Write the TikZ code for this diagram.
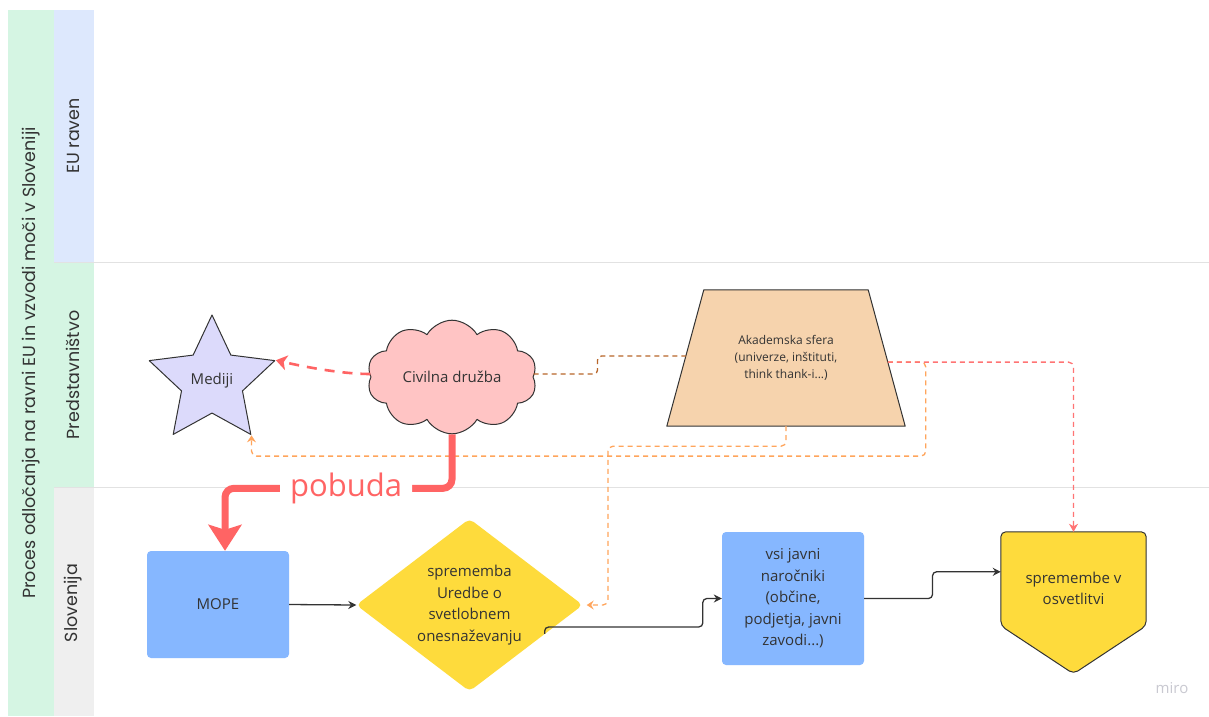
\documentclass[tikz,border=0pt]{standalone}
\usepackage{fontspec}
\setmainfont{Open Sans}
\newfontfamily\lanefont{Poppins}
\usetikzlibrary{shapes.geometric,shapes.symbols,arrows.meta,calc}

\definecolor{lanegreen}{HTML}{D5F5E3}
\definecolor{laneblue}{HTML}{DDE8FD}
\definecolor{lanegray}{HTML}{EFEFEF}
\definecolor{sepgray}{HTML}{E2E2E2}
\definecolor{inkdark}{HTML}{333333}
\definecolor{boxblue}{HTML}{86B7FF}
\definecolor{boxyellow}{HTML}{FEDB3C}
\definecolor{tanfill}{HTML}{F6D3AD}
\definecolor{cloudpink}{HTML}{FFC4C4}
\definecolor{starlilac}{HTML}{DCDAFB}
\definecolor{signalred}{HTML}{FF6464}
\definecolor{dashorange}{HTML}{FFA55C}
\definecolor{dashbrown}{HTML}{B8662A}
\definecolor{markgray}{HTML}{C9C9D1}

\pgfdeclarelayer{lanes}
\pgfdeclarelayer{shapes}
\pgfsetlayers{lanes,shapes,main}

\begin{document}
\begin{tikzpicture}[x=1pt,y=-1pt,
  shapetext/.style={font=\fontsize{15}{21.5}\selectfont, text=inkdark, align=center},
  smalltext/.style={font=\fontsize{12}{17}\selectfont, text=inkdark, align=center},
  lanelabel/.style={font=\lanefont\fontsize{17.5}{21}\selectfont, text=inkdark, rotate=90},
  outline/.style={draw=inkdark, line width=1pt, line join=round},
  bluebox/.style={shapetext, rectangle, rounded corners=4pt, fill=boxblue, inner sep=0pt},
  ghost/.style={rectangle, inner sep=0pt},
  flow/.style={draw=inkdark, line width=1.3pt, rounded corners=4pt,
    -{Stealth[length=8pt,width=8pt]}},
  pushlink/.style={draw=signalred, line width=2.6pt, dash pattern=on 10pt off 8pt,
    -{Stealth[length=11pt,width=15pt,inset=3pt]}},
  pobudalink/.style={draw=signalred, line width=7pt, rounded corners=9pt,
    -{Stealth[length=26pt,width=33pt,inset=5pt]}},
  orangelink/.style={draw=dashorange, line width=1.3pt, dash pattern=on 5pt off 4pt,
    rounded corners=5pt, -{Stealth[length=7pt,width=9pt,inset=2.5pt]}},
  redlink/.style={draw=signalred!90, line width=1.3pt, dash pattern=on 5pt off 4pt,
    rounded corners=5pt, -{Stealth[length=8pt,width=9pt,inset=2.5pt]}},
  brownlink/.style={draw=dashbrown, line width=1.3pt, dash pattern=on 5pt off 4pt,
    rounded corners=4pt},
]
\useasboundingbox (0,0) rectangle (1209,716);

% swimlane background
\begin{pgfonlayer}{lanes}
  \fill[white] (0,0) rectangle (1209,716);
  \fill[lanegreen] (8,10) rectangle (54,716);
  \fill[laneblue] (54,10) rectangle (94,262);
  \fill[lanegreen] (54,262) rectangle (94,487);
  \fill[lanegray] (54,487) rectangle (94,716);
  \draw[sepgray, line width=1pt] (54,262) -- (1209,262) (54,487) -- (1209,487);
\end{pgfonlayer}

% lane titles
\node[lanelabel] (title) at (31,363) {Proces odločanja na ravni EU in vzvodi moči v Sloveniji};
\node[lanelabel] (laneEU) at (73,136) {EU raven};
\node[lanelabel] (laneRep) at (73,375) {Predstavništvo};
\node[lanelabel] (laneSI) at (73,603) {Slovenija};

% actors
\node[star, star points=5, star point ratio=2.06, minimum size=132pt, inner sep=0pt,
      fill=starlilac, outline, shapetext] (med) at (212,381) {Mediji};
\node[cloud, cloud puffs=10, cloud puff arc=120, aspect=1.5, minimum width=170pt,
      minimum height=112pt, inner sep=0pt, fill=cloudpink, outline, shapetext]
      (civ) at (452,377) {Civilna družba};

\node[ghost, smalltext, minimum width=238pt, minimum height=136pt] (aka) at (786,358)
  {Akademska sfera\\(univerze, inštituti,\\think thank-i...)};
\coordinate (akaTL) at ($(aka.north west)+(37,0)$);
\coordinate (akaTR) at ($(aka.north east)+(-37,0)$);
\coordinate (akaL) at ($(akaTL)!0.485!(aka.south west)$);
\coordinate (akaR) at ($(akaTR)!0.53!(aka.south east)$);
\begin{pgfonlayer}{shapes}
  \draw[outline, fill=tanfill] (aka.south west) -- (akaTL) -- (akaTR) -- (aka.south east) -- cycle;
\end{pgfonlayer}

% process chain
\node[bluebox, minimum width=142pt, minimum height=107pt] (mope) at (218,604.5) {MOPE};

\node[ghost, shapetext, minimum width=226pt, minimum height=172pt] (dia) at (469.5,605)
  {sprememba\\Uredbe o\\svetlobnem\\onesnaževanju};
\begin{pgfonlayer}{shapes}
  \fill[boxyellow, rounded corners=5pt] (dia.west) -- (dia.north) -- (dia.east) -- (dia.south) -- cycle;
\end{pgfonlayer}

\node[bluebox, minimum width=142pt, minimum height=133pt] (vsi) at (793,598.5)
  {vsi javni\\naročniki\\(občine,\\podjetja, javni\\zavodi...)};

\node[ghost, shapetext, minimum width=145pt, minimum height=113pt] (osv) at (1073.5,588.5)
  {spremembe v\\osvetlitvi};
\begin{pgfonlayer}{shapes}
  \draw[outline, fill=boxyellow, rounded corners=5pt]
    (osv.north west) -- (osv.north east) -- ($(osv.north east)+(0,94)$)
    -- ($(osv.north)+(0,142)$) -- ($(osv.north west)+(0,94)$) -- cycle;
\end{pgfonlayer}

% connectors
\draw[pushlink] ([yshift=3pt]civ.west) .. controls +(-30,0) and +(26,6) .. (med.outer point 5);
\draw[brownlink] ([yshift=3pt]civ.east) -- ++(64,0) |- (akaL);
\draw[orangelink] (akaR) -| ($(akaR)+(38,94)$) -| (med.outer point 4);
\draw[orangelink, shorten >=4pt] (aka.south) |- ($(aka.south)+(-178,20)$) |- (dia.east);
\draw[redlink] (akaR) -| (osv.north);

\draw[pobudalink] (civ.south) -- ++(0,54) -| ([xshift=7pt]mope.north)
  node[pos=0.233, fill=white, inner xsep=10pt, inner ysep=1pt, text=signalred,
       font=\fontsize{31}{31}\selectfont] (pob) {pobuda};

\draw[flow] (mope.east) -- (dia.west);
\draw[flow] ($(dia.east)!0.336!(dia.south)$) -- ++(0,-7) -| ($(vsi.west)+(-19,0)$) -- (vsi.west);
\draw[flow] (vsi.east) -| ($(vsi.east)!0.5!($(osv.north west)+(0,40)$)$) |- ($(osv.north west)+(0,40)$);

% board watermark
\node[font=\fontsize{15}{15}\selectfont, text=markgray] (mark) at (1172,688) {miro};
\end{tikzpicture}
\end{document}
